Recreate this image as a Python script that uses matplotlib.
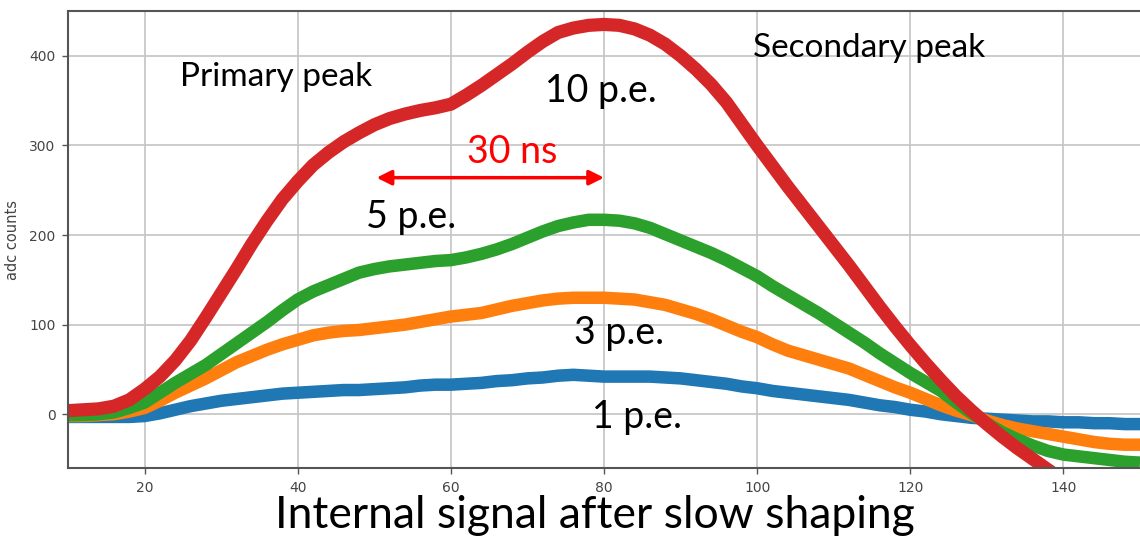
import matplotlib
matplotlib.use("Agg")
import matplotlib.pyplot as plt

# time axis (ns), sampled every 2 ns, and the averaged pulse for each photo-electron level
t_ns = list(range(10, 152, 2))

pe1 = [-3, -3, -3, -3, -3, -2, 1, 5, 9, 12, 15, 17, 19, 21, 23, 24, 25, 26, 27, 27,
       28, 29, 30, 32, 33, 33, 34, 35, 37, 38, 40, 41, 43, 44, 43, 42, 42, 42, 42, 41,
       40, 38, 36, 34, 31, 29, 26, 24, 22, 20, 18, 16, 13, 10, 8, 5, 3, 0, -2, -4,
       -5, -6, -7, -8, -8, -9, -9, -10, -10, -11, -11]
pe3 = [-2, -2, -1, 0, 3, 7, 15, 24, 32, 40, 49, 58, 65, 72, 78, 83, 88, 91, 93, 94,
       96, 98, 100, 103, 106, 109, 111, 113, 117, 121, 124, 127, 129, 130, 130, 130, 129, 128, 125, 122,
       117, 112, 106, 99, 92, 86, 78, 71, 66, 61, 56, 51, 44, 37, 30, 24, 17, 10, 4, -1,
       -7, -12, -16, -19, -22, -25, -28, -31, -33, -34, -34]
pe5 = [-1, -1, 0, 2, 7, 13, 24, 35, 45, 55, 67, 79, 91, 103, 116, 128, 137, 144, 151, 158,
       162, 165, 167, 169, 171, 172, 175, 179, 184, 190, 197, 204, 210, 214, 217, 217, 216, 213, 208, 201,
       194, 187, 180, 172, 163, 154, 143, 133, 123, 113, 102, 91, 80, 68, 57, 46, 36, 26, 13, 1,
       -10, -20, -28, -35, -41, -45, -47, -49, -51, -53, -54]
pe10 = [4, 5, 6, 9, 16, 28, 42, 60, 82, 108, 135, 162, 190, 216, 240, 260, 278, 292, 304, 314,
        323, 330, 335, 339, 342, 346, 356, 367, 379, 391, 404, 416, 426, 431, 434, 435, 434, 430, 423, 413,
        400, 385, 368, 348, 324, 300, 277, 254, 232, 210, 188, 166, 143, 120, 98, 77, 57, 38, 20, 4,
        -11, -25, -38, -50, -62, -74, -86, -98, -110, -122, -134]

series = [pe1, pe3, pe5, pe10]
colors = ['#1f77b4', '#ff7f0e', '#2ca02c', '#d62728']
widths = [9, 9, 9, 9.5]

fig = plt.figure(figsize=(11.4, 5.48), dpi=100)
ax = fig.add_axes([68 / 1140, 80 / 548, 1072 / 1140, 457 / 548])

for ys, c, w in zip(series, colors, widths):
    ax.plot(t_ns, ys, color=c, lw=w, solid_capstyle='butt', solid_joinstyle='round')

ax.set_xlim(10, 150)
ax.set_ylim(-60, 450)
ax.set_xticks([20, 40, 60, 80, 100, 120, 140])
ax.set_yticks([0, 100, 200, 300, 400])
ax.grid(True, color='#c4c4c4', lw=1.2)
ax.set_axisbelow(True)

for side in ['left', 'top', 'bottom']:
    ax.spines[side].set_color('#555555')
    ax.spines[side].set_linewidth(1.5)
ax.spines['right'].set_visible(False)
ax.tick_params(direction='out', length=4, width=1, colors='#555555',
               labelsize=10, labelcolor='#444444', pad=5)
ax.set_ylabel('adc counts', fontsize=10.5, color='#444444')
ax.yaxis.set_label_coords(-0.045, 0.5)

big = dict(family='Lato', color='black', ha='center', va='baseline')
ax.text(37.2, 366, 'Primary peak', fontsize=24, **big)
ax.text(114.6, 399, 'Secondary peak', fontsize=24, **big)
ax.text(79.6, 348, '10 p.e.', fontsize=27, **big)
ax.text(54.8, 208, '5 p.e.', fontsize=27, **big)
ax.text(82.0, 78, '3 p.e.', fontsize=27, **big)
ax.text(84.3, -15, '1 p.e.', fontsize=27, **big)
ax.text(68.0, 280, '30 ns', fontsize=27, family='Lato', color='red', ha='center', va='baseline')

# 30 ns span between the two peaks
ax.annotate('', xy=(80, 264), xytext=(50.3, 264),
            arrowprops=dict(arrowstyle='<|-|>', color='red', lw=2.5, mutation_scale=22,
                            shrinkA=0, shrinkB=0))

fig.text(595 / 1140, 1 - 528 / 548, 'Internal signal after slow shaping',
         fontsize=32, family='Lato', ha='center', va='baseline')

fig.savefig('out.png', dpi=100)
